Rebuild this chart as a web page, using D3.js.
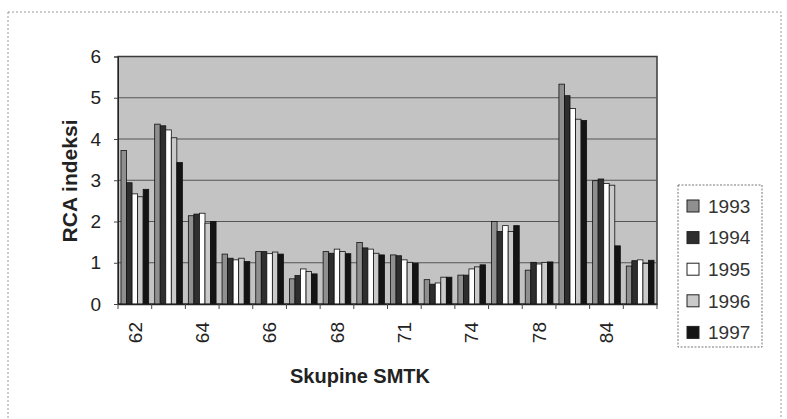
<!DOCTYPE html>
<html>
<head>
<meta charset="utf-8">
<script src="https://cdn.jsdelivr.net/npm/d3@7"></script>
<style>
body { margin: 0; background: #fff; }
svg text { font-family: "Liberation Sans", Arial, sans-serif; }
</style>
</head>
<body>
<script>
var W = 787, H = 419;

// SMTK groups (only every other one is labelled in the original)
var categories = ["62", "63", "64", "65", "66", "67", "68", "69",
                  "71", "72", "74", "77", "78", "82", "84", "85"];
var years = ["1993", "1994", "1995", "1996", "1997"];
var v1993 = [3.72, 4.36, 2.14, 1.21, 1.27, 0.61, 1.27, 1.49, 1.19, 0.59, 0.70, 2.00, 0.82, 5.33, 2.99, 0.92];
var v1994 = [2.94, 4.32, 2.18, 1.11, 1.27, 0.69, 1.23, 1.36, 1.17, 0.48, 0.70, 1.76, 1.01, 5.05, 3.03, 1.05];
var v1995 = [2.67, 4.22, 2.20, 1.07, 1.22, 0.85, 1.33, 1.33, 1.07, 0.51, 0.85, 1.90, 0.97, 4.74, 2.92, 1.07];
var v1996 = [2.60, 4.03, 1.96, 1.11, 1.26, 0.79, 1.27, 1.23, 1.01, 0.65, 0.90, 1.76, 1.01, 4.48, 2.88, 0.98];
var v1997 = [2.78, 3.43, 2.00, 1.03, 1.21, 0.73, 1.22, 1.19, 0.99, 0.65, 0.95, 1.90, 1.02, 4.45, 1.41, 1.06];
var yTicks = [0, 1, 2, 3, 4, 5, 6];

var series = [v1993, v1994, v1995, v1996, v1997];
var fills = ["#8f8f8f", "#2e2e2e", "#ffffff", "#cacaca", "#141414"];

var plot = { left: 118, right: 657, top: 56.5, bottom: 304 };

var svg = d3.select("body").append("svg")
    .attr("width", W)
    .attr("height", H);

// outer chart frame (dotted, faint)
svg.append("rect")
    .attr("x", 8).attr("y", 12)
    .attr("width", 773).attr("height", 420)
    .attr("fill", "none")
    .attr("stroke", "#9a9a9a")
    .attr("stroke-dasharray", "2,2");

var x0 = d3.scaleBand()
    .domain(categories)
    .range([plot.left, plot.right])
    .paddingInner(0)
    .paddingOuter(0);

var x1 = d3.scaleBand()
    .domain(years)
    .range([0, x0.bandwidth()])
    .paddingInner(0)
    .paddingOuter(0.54);

var y = d3.scaleLinear()
    .domain([0, 6])
    .range([plot.bottom, plot.top]);

// plot area
svg.append("rect")
    .attr("x", plot.left).attr("y", plot.top)
    .attr("width", plot.right - plot.left)
    .attr("height", plot.bottom - plot.top)
    .attr("fill", "#c3c3c3")
    .attr("stroke", "#3a3a3a")
    .attr("stroke-width", 1.5);

// gridlines
svg.selectAll(".grid")
    .data(yTicks.filter(function(t) { return t > 0 && t < 6; }))
    .enter().append("line")
    .attr("x1", plot.left).attr("x2", plot.right)
    .attr("y1", function(t) { return y(t); })
    .attr("y2", function(t) { return y(t); })
    .attr("stroke", "#555")
    .attr("stroke-width", 1.2);

// bars
var groups = svg.selectAll(".grp")
    .data(categories).enter()
    .append("g")
    .attr("transform", function(c) { return "translate(" + x0(c) + ",0)"; });

groups.selectAll("rect")
    .data(function(c, i) {
        return years.map(function(yr, j) {
            return { year: yr, value: series[j][i], k: j };
        });
    }).enter()
    .append("rect")
    .attr("x", function(d) { return x1(d.year); })
    .attr("width", x1.bandwidth())
    .attr("y", function(d) { return y(d.value); })
    .attr("height", function(d) { return plot.bottom - y(d.value); })
    .attr("fill", function(d) { return fills[d.k]; })
    .attr("stroke", "#111")
    .attr("stroke-width", 0.8);

// y axis
var yAxis = d3.axisLeft(y)
    .tickValues(yTicks)
    .tickSize(4)
    .tickPadding(13)
    .tickFormat(d3.format("d"));

var gy = svg.append("g")
    .attr("transform", "translate(" + plot.left + ",0)")
    .call(yAxis);
gy.select(".domain").attr("stroke", "#222");
gy.selectAll("line").attr("stroke", "#444");
gy.selectAll("text")
    .attr("font-size", 19)
    .attr("fill", "#222");

// x axis
var xAxis = d3.axisBottom(x0)
    .tickValues(categories.filter(function(c, i) { return i % 2 == 0; }))
    .tickSize(0)
    .tickPadding(0);

var gx = svg.append("g")
    .attr("transform", "translate(0," + plot.bottom + ")")
    .call(xAxis);
gx.select(".domain").attr("stroke", "#222").attr("stroke-width", 1.5);
gx.selectAll("text")
    .attr("font-size", 19)
    .attr("fill", "#222")
    .attr("transform", "rotate(-90)")
    .attr("text-anchor", "end")
    .attr("x", -18)
    .attr("y", 0)
    .attr("dy", "0.35em");

// tick marks between groups
svg.selectAll(".xt")
    .data(categories.concat(["end"])).enter()
    .append("line")
    .attr("x1", function(c, i) { return plot.left + i * x0.step(); })
    .attr("x2", function(c, i) { return plot.left + i * x0.step(); })
    .attr("y1", plot.bottom)
    .attr("y2", plot.bottom + 5)
    .attr("stroke", "#444");

// axis titles
svg.append("text")
    .attr("x", 360).attr("y", 383)
    .attr("text-anchor", "middle")
    .attr("font-size", 20)
    .attr("font-weight", "bold")
    .attr("fill", "#222")
    .text("Skupine SMTK");

svg.append("text")
    .attr("transform", "translate(77,181) rotate(-90)")
    .attr("text-anchor", "middle")
    .attr("font-size", 21)
    .attr("font-weight", "bold")
    .attr("fill", "#222")
    .text("RCA indeksi");

// legend
var legend = svg.append("g").attr("transform", "translate(678,185)");
legend.append("rect")
    .attr("width", 84).attr("height", 162)
    .attr("fill", "#fff")
    .attr("stroke", "#777")
    .attr("stroke-dasharray", "2,1.5");

var items = legend.selectAll(".item")
    .data(years).enter()
    .append("g")
    .attr("transform", function(d, i) { return "translate(9," + (21 + i * 31.6) + ")"; });
items.append("rect")
    .attr("x", 0).attr("y", -6)
    .attr("width", 12).attr("height", 12)
    .attr("fill", function(d, i) { return fills[i]; })
    .attr("stroke", "#222");
items.append("text")
    .attr("x", 21).attr("y", 0)
    .attr("dy", "0.36em")
    .attr("font-size", 19)
    .attr("fill", "#333")
    .text(function(d) { return d; });
</script>
</body>
</html>
